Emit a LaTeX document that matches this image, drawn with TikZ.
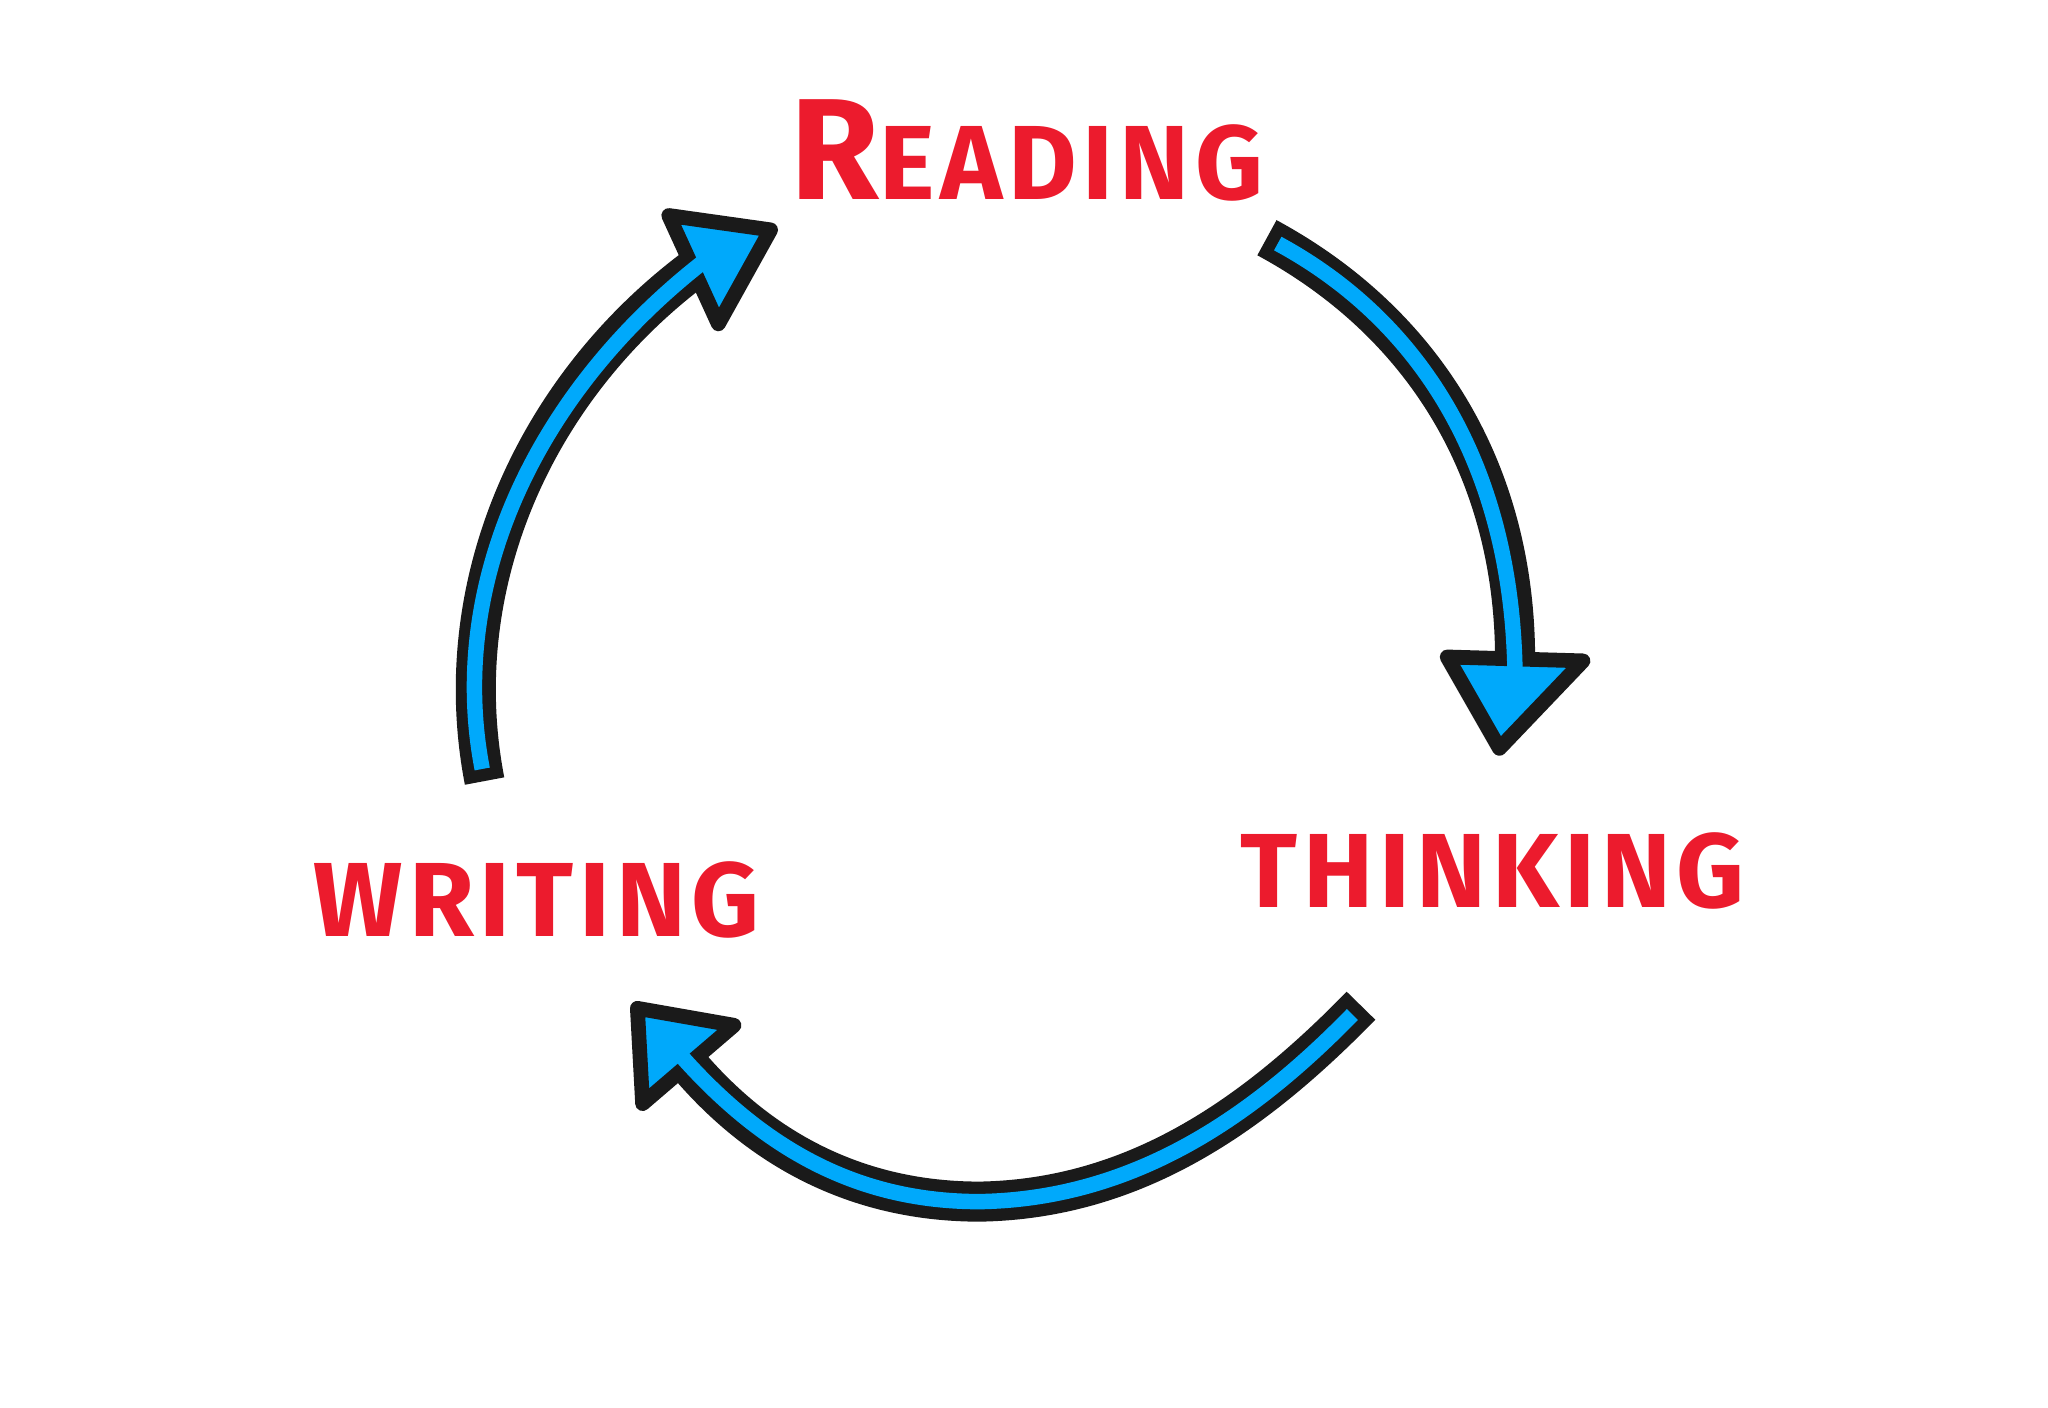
\documentclass[tikz,border=0pt]{standalone}
\usepackage{fontspec}
\setmainfont{Fira Sans}[LetterSpace=5.5]
\definecolor{hred}{HTML}{EC1B2D}
\definecolor{hblue}{HTML}{00A9FB}
\definecolor{hink}{HTML}{1A1A1A}
\begin{document}
\begin{tikzpicture}[x=0.013061cm, y=0.013061cm,
  shaftout/.style={draw=hink, line width=11.4pt},
  shaftin/.style={draw=hblue, line width=4.4pt, shorten <=3.5pt, shorten >=-7pt},
  headtri/.style={fill=hblue, draw=hink, line width=4.2pt, line join=round},
  word/.style={text=hred, font=\bfseries\fontsize{30}{30}\selectfont, anchor=base, inner sep=0pt}]
\useasboundingbox (0,0) rectangle (1568,1078);

% words
\node[word] (read) at (786,925) {{\fontsize{41}{41}\selectfont R}EADING};
\node[word] (think) at (1143,383) {THINKING};
\node[word] (write) at (411,361) {WRITING};

% arrow ends
\coordinate (t1) at (371,480);
\coordinate (b1) at (531,872);
\coordinate (h1a) at (512,913);
\coordinate (h1b) at (550,830);
\coordinate (h1t) at (590,902);

\coordinate (t2) at (970,896);
\coordinate (b2) at (1160,573);
\coordinate (h2a) at (1108,575);
\coordinate (h2b) at (1212,572);
\coordinate (h2t) at (1148,505);

\coordinate (t3) at (1042,308);
\coordinate (m3) at (750,158);
\coordinate (b3) at (527,263);
\coordinate (h3a) at (562,293);
\coordinate (h3b) at (492,233);
\coordinate (h3t) at (488,306);

% black outlines of shafts
\draw[shaftout] (t1) .. controls (342,630) and (409,780) .. (b1);
\draw[shaftout] (t2) .. controls (1092,830) and (1160,715) .. (b2);
\draw[shaftout] (t3) .. controls (961,225) and (870,160) .. (m3)
                     .. controls (660,158) and (585,195) .. (b3);

% heads
\draw[headtri] (h1a) -- (h1t) -- (h1b) -- cycle;
\draw[headtri] (h2a) -- (h2t) -- (h2b) -- cycle;
\draw[headtri] (h3a) -- (h3t) -- (h3b) -- cycle;

% blue fill of shafts
\draw[shaftin] (t1) .. controls (342,630) and (409,780) .. (b1);
\draw[shaftin] (t2) .. controls (1092,830) and (1160,715) .. (b2);
\draw[shaftin] (t3) .. controls (961,225) and (870,160) .. (m3)
                    .. controls (660,158) and (585,195) .. (b3);
\end{tikzpicture}
\end{document}
